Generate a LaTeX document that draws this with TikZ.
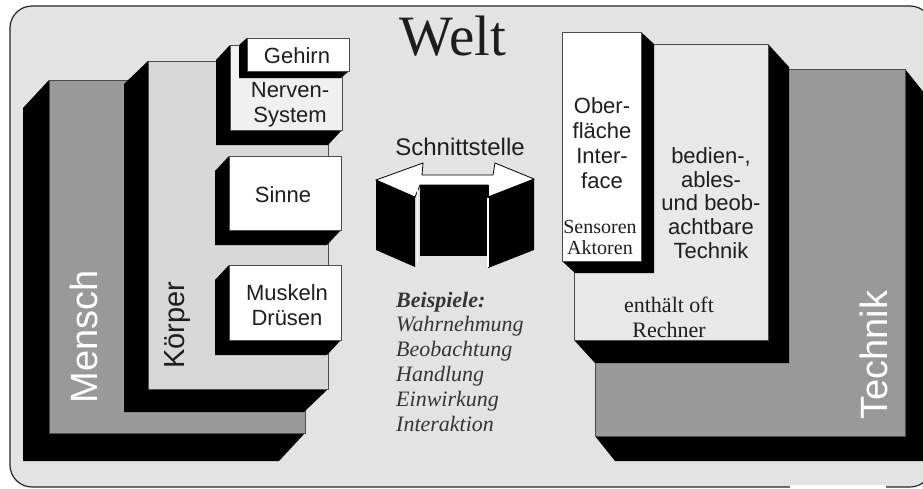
\documentclass[tikz,border=0pt]{standalone}
\usepackage{fontspec}
\setmainfont{Liberation Serif}
\setsansfont{Liberation Sans}
\definecolor{bg}{HTML}{E3E3E3}
\definecolor{midgray}{HTML}{999999}
\definecolor{koerper}{HTML}{D8D8D8}
\definecolor{nerven}{HTML}{F0F0F0}
\definecolor{bedien}{HTML}{E8E8E8}
\definecolor{ink}{HTML}{1E1E1E}
% block extruded to the lower left: x1 y1 x2 y2 dx dy colour
\newcommand{\blockleft}[7]{%
  \fill[black] (#1,#2) -- ({#1+#5},{#2+#6}) -- ({#1+#5},{#4+#6}) -- ({#3+#5},{#4+#6}) -- (#3,#4) -- (#3,#2) -- cycle;
  \filldraw[face, fill=#7] (#1,#2) rectangle (#3,#4);}
% block extruded to the lower right
\newcommand{\blockright}[7]{%
  \fill[black] (#3,#2) -- ({#3+#5},{#2+#6}) -- ({#3+#5},{#4+#6}) -- ({#1+#5},{#4+#6}) -- (#1,#4) -- (#1,#2) -- cycle;
  \filldraw[face, fill=#7] (#1,#2) rectangle (#3,#4);}
\begin{document}
\begin{tikzpicture}[x=1pt,y=-1pt,
  face/.style={draw=black!70, line width=0.8pt},
  sanslbl/.style={anchor=base, inner sep=0pt, text=ink, font=\sffamily\fontsize{22}{25}\selectfont},
  seriflbl/.style={anchor=base, inner sep=0pt, text=ink, font=\rmfamily\fontsize{22}{25}\selectfont},
  smallserif/.style={anchor=base, inner sep=0pt, text=ink, font=\rmfamily\fontsize{20}{22}\selectfont},
  example/.style={anchor=base west, inner sep=0pt, text=ink!90, font=\rmfamily\itshape\fontsize{22}{25}\selectfont},
  biglbl/.style={anchor=base, inner sep=0pt, rotate=90, font=\sffamily\fontsize{38}{40}\selectfont},
]
\useasboundingbox (0,0) rectangle (923,488);
\fill[white] (0,0) rectangle (923,488);
% frame
\filldraw[fill=bg, draw=black!85, line width=1.2pt, rounded corners=22pt] (10,6) rectangle (932,487);
\fill[white] (790,485) rectangle (886,489);

% ---------- left side: Mensch ----------
\blockleft{49}{80}{305}{433}{-26}{28}{midgray}
\blockleft{148}{61}{328}{389}{-24}{23}{koerper}
\blockleft{230}{45}{342}{130}{-14}{15}{nerven}
\blockleft{247}{38}{349}{71}{-8}{7}{white}
\blockleft{229}{156}{341}{230}{-14}{15}{white}
\blockleft{229}{265}{341}{340}{-14}{15}{white}

\node[biglbl, text=white] (mensch) at (97,337) {Mensch};
\node[sanslbl, rotate=90, font=\sffamily\fontsize{29}{30}\selectfont] (koerper) at (184,325) {Körper};
\node[sanslbl] (gehirn) at (297,63) {Gehirn};
\node[sanslbl] (nerv1) at (290,97) {Nerven-};
\node[sanslbl] (nerv2) at (290,122) {System};
\node[sanslbl] (sinne) at (283,202) {Sinne};
\node[sanslbl] (musk1) at (287,300) {Muskeln};
\node[sanslbl] (musk2) at (287,325) {Drüsen};

% ---------- title ----------
\node[anchor=base, inner sep=0pt, text=ink, font=\rmfamily\fontsize{57}{60}\selectfont] (welt) at (453,55) {Welt};

% ---------- Schnittstelle ----------
\node[sanslbl, font=\sffamily\fontsize{24}{26}\selectfont] (schnitt) at (460,155) {Schnittstelle};
\coordinate (ltip) at (376,180);
\coordinate (rtip) at (534,179);
\filldraw[fill=white, draw=black, line width=0.8pt]
  (ltip) -- (423,163) -- (422,175) -- (493,175) -- (495,163) -- (rtip)
  -- (488,197) -- (488,185) -- (420,185) -- (415,197) -- cycle;
\fill[black] (ltip) -- (415,197) -- (415,267) -- (376,250) -- cycle;
\fill[black] (420,185) rectangle (489,256);
\fill[black] (488,197) -- (rtip) -- (534,250) -- (488,268) -- cycle;
\draw[white, line width=1.6pt] (417.5,186) -- (417.5,262);
\draw[white, line width=1.6pt] (488,198) -- (488,267);

% ---------- examples ----------
\node[example, font=\rmfamily\bfseries\itshape\fontsize{22}{25}\selectfont] (bsp) at (396,307) {Beispiele:};
\node[example] (ex1) at (396,331) {Wahrnehmung};
\node[example] (ex2) at (396,356) {Beobachtung};
\node[example] (ex3) at (396,381) {Handlung};
\node[example] (ex4) at (396,406) {Einwirkung};
\node[example] (ex5) at (396,431) {Interaktion};

% ---------- right side: Technik ----------
\blockright{595}{69}{905}{436}{20}{25}{midgray}
\blockright{574}{44}{768}{340}{21}{23}{bedien}
\blockright{562}{32}{641}{261}{13}{12}{white}

\node[biglbl, text=white] (technik) at (887,355) {Technik};
\node[sanslbl] (ob1) at (602,113) {Ober-};
\node[sanslbl] (ob2) at (602,138) {fläche};
\node[sanslbl] (ob3) at (602,163) {Inter-};
\node[sanslbl] (ob4) at (602,188) {face};
\node[smallserif] (sens) at (600,233) {Sensoren};
\node[smallserif] (akt) at (600,254) {Aktoren};
\node[sanslbl] (bd1) at (711,163) {bedien-,};
\node[sanslbl] (bd2) at (711,187) {ables-};
\node[sanslbl] (bd3) at (711,210) {und beob-};
\node[sanslbl] (bd4) at (711,234) {achtbare};
\node[sanslbl] (bd5) at (711,258) {Technik};
\node[seriflbl] (rech1) at (669,312) {enthält oft};
\node[seriflbl] (rech2) at (669,337) {Rechner};
\end{tikzpicture}
\end{document}
